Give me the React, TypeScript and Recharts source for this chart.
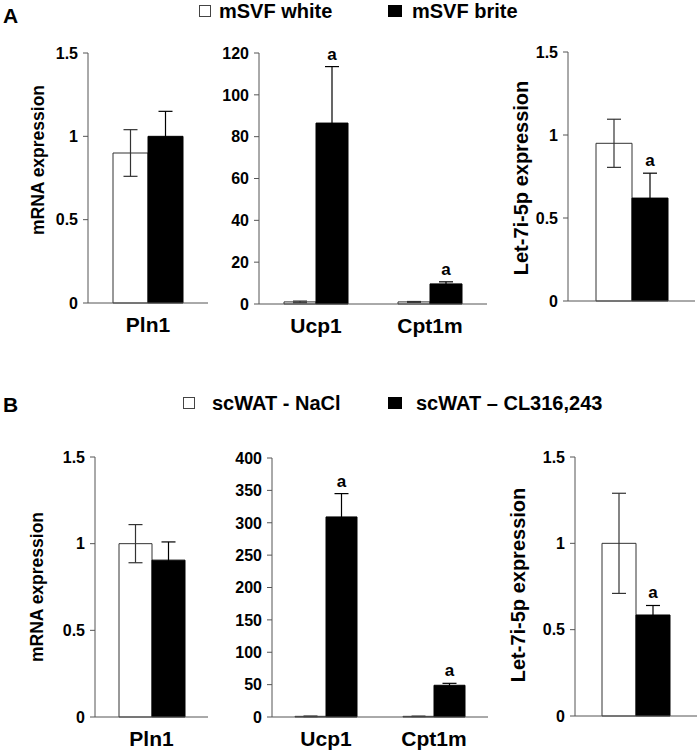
import { BarChart, Bar, XAxis, YAxis, ErrorBar, LabelList } from 'recharts';

const FONT = '"Liberation Sans", Arial, Helvetica, sans-serif';
const AXIS = '#555';

// ---- panel A : mSVF white vs mSVF brite ----
const aLegend = ['mSVF white', 'mSVF brite'];

const a1Genes = ['Pln1'];
const a1White = [0.9];
const a1WhiteErr = [0.14];
const a1Dark = [1.0];
const a1DarkErr = [0.15];
const a1Sig = [''];

const a2Genes = ['Ucp1', 'Cpt1m'];
const a2White = [1, 1];
const a2WhiteErr = [0.4, 0.2];
const a2Dark = [86.5, 9.6];
const a2DarkErr = [27, 1];
const a2Sig = ['a', 'a'];

const a3Genes = [''];
const a3White = [0.95];
const a3WhiteErr = [0.145];
const a3Dark = [0.62];
const a3DarkErr = [0.15];
const a3Sig = ['a'];

// ---- panel B : scWAT NaCl vs CL316,243 ----
const bLegend = ['scWAT - NaCl', 'scWAT \u2013 CL316,243'];

const b1Genes = ['Pln1'];
const b1White = [1.0];
const b1WhiteErr = [0.11];
const b1Dark = [0.905];
const b1DarkErr = [0.105];
const b1Sig = [''];

const b2Genes = ['Ucp1', 'Cpt1m'];
const b2White = [1, 1];
const b2WhiteErr = [0.5, 0.3];
const b2Dark = [309, 49];
const b2DarkErr = [36, 3];
const b2Sig = ['a', 'a'];

const b3Genes = [''];
const b3White = [1.0];
const b3WhiteErr = [0.29];
const b3Dark = [0.585];
const b3DarkErr = [0.055];
const b3Sig = ['a'];

// tick labels
const foldTicks = [0, 0.5, 1, 1.5];
const a2Ticks = [0, 20, 40, 60, 80, 100, 120];
const b2Ticks = [0, 50, 100, 150, 200, 250, 300, 350, 400];

type PanelProps = {
  left: number;
  top: number;
  width: number;
  height: number;
  mTop: number;
  mRight: number;
  yWidth: number;
  xHeight: number;
  genes: string[];
  white: number[];
  whiteErr: number[];
  dark: number[];
  darkErr: number[];
  sig: string[];
  ticks: number[];
  barSize: number;
  yLabel?: string;
  yLabelSize?: number;
  yLabelX?: number; // page coords of label centre
  yLabelY?: number;
};

function Panel(p: PanelProps) {
  const rows = p.genes.map((g, i) => ({
    gene: g,
    white: p.white[i],
    whiteErr: p.whiteErr[i],
    dark: p.dark[i],
    darkErr: p.darkErr[i],
  }));

  // the "a" mark sits just above the error bar of the dark bar
  const renderSig = (props: any) => {
    const { x, y, width, height, index } = props;
    const s = p.sig[index];
    if (!s) return null;
    const perUnit = height / p.dark[index];
    const errTop = y - p.darkErr[index] * perUnit;
    return (
      <text x={x + width / 2} y={errTop - 7} textAnchor="middle"
        fontFamily={FONT} fontWeight="bold" fontSize={17} fill="#000">
        {s}
      </text>
    );
  };

  const yTick = (props: any) => (
    <text x={props.x} y={props.y} dy="0.36em" textAnchor="end"
      fontFamily={FONT} fontWeight="bold" fontSize={16} fill="#000">
      {props.payload.value}
    </text>
  );

  const xTick = (props: any) => (
    <text x={props.x} y={props.y} dy="0.75em" textAnchor="middle"
      fontFamily={FONT} fontWeight="bold" fontSize={21} fill="#000">
      {props.payload.value}
    </text>
  );

  const yLabel = () => {
    if (!p.yLabel) return null;
    const cx = (p.yLabelX ?? 0) - p.left;
    const cy = (p.yLabelY ?? 0) - p.top;
    return (
      <text x={cx} y={cy} dy="0.36em" textAnchor="middle" transform={`rotate(-90, ${cx}, ${cy})`}
        fontFamily={FONT} fontWeight="bold" fontSize={p.yLabelSize ?? 18} fill="#000">
        {p.yLabel}
      </text>
    );
  };

  return (
    <div style={{ position: 'absolute', left: p.left, top: p.top }}>
      <BarChart
        width={p.width}
        height={p.height}
        data={rows}
        margin={{ top: p.mTop, right: p.mRight, bottom: 0, left: 0 }}
        barGap={0}
        barSize={p.barSize}
      >
        <XAxis
          dataKey="gene"
          height={p.xHeight}
          axisLine={{ stroke: AXIS }}
          tickLine={false}
          tickSize={4}
          tickMargin={9}
          tick={xTick}
        />
        <YAxis
          type="number"
          domain={[0, p.ticks[p.ticks.length - 1]]}
          ticks={p.ticks}
          interval={0}
          width={p.yWidth}
          axisLine={{ stroke: AXIS }}
          tickLine={{ stroke: AXIS }}
          tickSize={5}
          tickMargin={5}
          tick={yTick}
          label={{ content: yLabel }}
        />
        <Bar dataKey="white" fill="#fff" stroke="#333" strokeWidth={1} isAnimationActive={false}>
          <ErrorBar dataKey="whiteErr" width={7} stroke="#333" strokeWidth={1.2} direction="y" isAnimationActive={false} />
        </Bar>
        <Bar dataKey="dark" fill="#000" stroke="#000" strokeWidth={1} isAnimationActive={false}>
          <ErrorBar dataKey="darkErr" width={7} stroke="#000" strokeWidth={1.2} direction="y" isAnimationActive={false} />
          <LabelList dataKey="dark" content={renderSig} />
        </Bar>
      </BarChart>
    </div>
  );
}

function LegendRow({ top, items, whiteX, darkX, whiteText, darkText }: {
  top: number; items: string[]; whiteX: number; darkX: number; whiteText: number; darkText: number;
}) {
  const txt: React.CSSProperties = {
    position: 'absolute',
    top: top - 4,
    fontFamily: FONT,
    fontWeight: 'bold',
    fontSize: 20,
    lineHeight: '23px',
    whiteSpace: 'nowrap',
    color: '#000',
  };
  return (
    <>
      <div style={{ position: 'absolute', left: whiteX, top: top + 1, width: 10, height: 10, border: '1px solid #444', background: '#fff' }} />
      <span style={{ ...txt, left: whiteText }}>{items[0]}</span>
      <div style={{ position: 'absolute', left: darkX, top: top + 1, width: 14, height: 12, background: '#000' }} />
      <span style={{ ...txt, left: darkText }}>{items[1]}</span>
    </>
  );
}

export default function App() {
  const letter: React.CSSProperties = {
    position: 'absolute',
    left: 3,
    fontFamily: FONT,
    fontWeight: 'bold',
    fontSize: 21,
    lineHeight: '24px',
    color: '#000',
  };
  return (
    <div style={{ position: 'absolute', left: 0, top: 0, width: 697, height: 752, background: '#fff', overflow: 'hidden' }}>
      <span style={{ ...letter, top: 4 }}>A</span>
      <span style={{ ...letter, top: 393 }}>B</span>

      <LegendRow top={4} items={aLegend} whiteX={199} whiteText={219} darkX={388} darkText={412} />
      <LegendRow top={396} items={bLegend} whiteX={183} whiteText={212} darkX={388} darkText={416} />

      <Panel left={0} top={0} width={230} height={345} mTop={53} mRight={22} yWidth={88} xHeight={42}
        genes={a1Genes} white={a1White} whiteErr={a1WhiteErr} dark={a1Dark} darkErr={a1DarkErr} sig={a1Sig}
        ticks={foldTicks} barSize={35} yLabel="mRNA expression" yLabelSize={17.5} yLabelX={38} yLabelY={160} />
      <Panel left={190} top={0} width={300} height={346} mTop={53} mRight={3} yWidth={69} xHeight={42}
        genes={a2Genes} white={a2White} whiteErr={a2WhiteErr} dark={a2Dark} darkErr={a2DarkErr} sig={a2Sig}
        ticks={a2Ticks} barSize={32} />
      <Panel left={495} top={0} width={202} height={343} mTop={52} mRight={2} yWidth={73} xHeight={42}
        genes={a3Genes} white={a3White} whiteErr={a3WhiteErr} dark={a3Dark} darkErr={a3DarkErr} sig={a3Sig}
        ticks={foldTicks} barSize={36} yLabel="Let-7i-5p expression" yLabelSize={20} yLabelX={521} yLabelY={178} />

      <Panel left={0} top={400} width={230} height={350} mTop={57} mRight={22} yWidth={95} xHeight={33}
        genes={b1Genes} white={b1White} whiteErr={b1WhiteErr} dark={b1Dark} darkErr={b1DarkErr} sig={b1Sig}
        ticks={foldTicks} barSize={33} yLabel="mRNA expression" yLabelSize={17.5} yLabelX={37} yLabelY={587} />
      <Panel left={200} top={400} width={290} height={350} mTop={58} mRight={2} yWidth={72} xHeight={33}
        genes={b2Genes} white={b2White} whiteErr={b2WhiteErr} dark={b2Dark} darkErr={b2DarkErr} sig={b2Sig}
        ticks={b2Ticks} barSize={31} />
      <Panel left={495} top={400} width={202} height={349} mTop={57} mRight={0} yWidth={80} xHeight={33}
        genes={b3Genes} white={b3White} whiteErr={b3WhiteErr} dark={b3Dark} darkErr={b3DarkErr} sig={b3Sig}
        ticks={foldTicks} barSize={34} yLabel="Let-7i-5p expression" yLabelSize={20} yLabelX={518} yLabelY={585} />
    </div>
  );
}
